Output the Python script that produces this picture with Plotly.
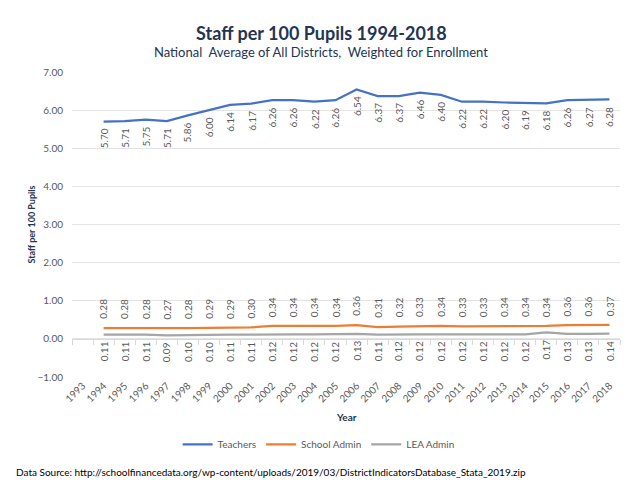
import plotly.graph_objects as go

years = list(range(1994, 2019))
axis_years = list(range(1993, 2019))
teachers = [5.70, 5.71, 5.75, 5.71, 5.86, 6.00, 6.14, 6.17, 6.26, 6.26, 6.22, 6.26, 6.54,
            6.37, 6.37, 6.46, 6.40, 6.22, 6.22, 6.20, 6.19, 6.18, 6.26, 6.27, 6.28]
school_admin = [0.28, 0.28, 0.28, 0.27, 0.28, 0.29, 0.29, 0.30, 0.34, 0.34, 0.34, 0.34, 0.36,
                0.31, 0.32, 0.33, 0.34, 0.33, 0.33, 0.34, 0.34, 0.34, 0.36, 0.36, 0.37]
lea_admin = [0.11, 0.11, 0.11, 0.09, 0.10, 0.10, 0.11, 0.11, 0.12, 0.12, 0.12, 0.12, 0.13,
             0.11, 0.12, 0.12, 0.12, 0.12, 0.12, 0.12, 0.12, 0.17, 0.13, 0.13, 0.14]
y_ticks = [-1, 0, 1, 2, 3, 4, 5, 6, 7]

FONT = "Lato"
GRAY = "#595959"
NAVY = "#243452"
colors = {"Teachers": "#4472C4", "School Admin": "#ED7D31", "LEA Admin": "#A5A5A5"}

fig = go.Figure()
for name, vals in [("Teachers", teachers), ("School Admin", school_admin), ("LEA Admin", lea_admin)]:
    fig.add_trace(go.Scatter(x=years, y=vals, mode="lines", name=name,
                             line=dict(color=colors[name], width=2.25)))

annotations = []
def add_labels(vals, below):
    for x, v in zip(years, vals):
        annotations.append(dict(
            x=x, y=v, xref="x", yref="y", text=f"{v:.2f}", showarrow=False,
            textangle=-90, font=dict(family=FONT, size=10, color=GRAY),
            yanchor="top" if below else "bottom", xanchor="center",
            yshift=-5 if below else 7))

add_labels(teachers, True)
add_labels(school_admin, False)
add_labels(lea_admin, True)

annotations.append(dict(
    text="<b>Staff per 100 Pupils 1994-2018</b>", xref="paper", yref="paper",
    x=0.455, y=1.128, xanchor="center", yanchor="middle", showarrow=False,
    font=dict(family=FONT, size=18, color=NAVY)))
annotations.append(dict(
    text="National  Average of All Districts,  Weighted for Enrollment", xref="paper", yref="paper",
    x=0.455, y=1.066, xanchor="center", yanchor="middle", showarrow=False,
    font=dict(family=FONT, size=13, color=NAVY)))
annotations.append(dict(
    text="<b>Year</b>", xref="paper", yref="paper", x=0.5, y=-0.131,
    xanchor="center", yanchor="middle", showarrow=False,
    font=dict(family=FONT, size=10, color=NAVY)))
annotations.append(dict(
    text="Data Source: http://schoolfinancedata.org/wp-content/uploads/2019/03/DistrictIndicatorsDatabase_Stata_2019.zip",
    xref="paper", yref="paper", x=-0.106, y=-0.31, xanchor="left", yanchor="middle",
    showarrow=False, font=dict(family=FONT, size=10, color="#000000")))

fig.update_layout(
    width=640, height=480,
    margin=dict(l=64, r=28, t=64, b=111),
    paper_bgcolor="white", plot_bgcolor="white",
    showlegend=True,
    legend=dict(orientation="h", x=0.45, xanchor="center", y=-0.221, yanchor="middle",
                font=dict(family=FONT, size=10, color=GRAY)),
    annotations=annotations,
    xaxis=dict(range=[1992.5, 2018.5], tickmode="array", tickvals=axis_years,
               ticktext=[str(y) for y in axis_years], tickangle=-45,
               tickfont=dict(family=FONT, size=10, color=GRAY),
               showgrid=False, zeroline=False, showline=False, ticks=""),
    xaxis2=dict(range=[1992.5, 2018.5], overlaying="x", anchor="free", position=0.125,
                side="bottom", tickmode="array", tickvals=[y + 0.5 for y in range(1992, 2019)],
                ticks="outside", ticklen=5, tickcolor="#D9D9D9", showticklabels=False,
                showline=True, linecolor="#D9D9D9", linewidth=1, showgrid=False, zeroline=False),
    yaxis=dict(range=[-1, 7], tickmode="array", tickvals=y_ticks, tickformat=".2f",
               tickfont=dict(family=FONT, size=10, color=GRAY),
               showgrid=True, gridcolor="#E4E4E4", gridwidth=1, zeroline=False,
               ticklabelstandoff=8,
               title=dict(text="<b>Staff per 100 Pupils</b>", font=dict(family=FONT, size=9, color=NAVY), standoff=0)),
)
fig.add_trace(go.Scatter(x=[], y=[], xaxis="x2", showlegend=False, hoverinfo="skip"))

fig.write_html("out.html")
